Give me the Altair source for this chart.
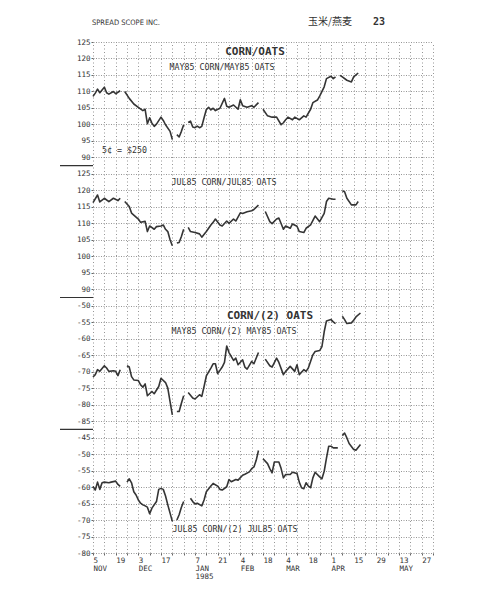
import altair as alt
import pandas as pd

# ---------------- data ----------------
PANEL_TOPS = [125, 125, -50, -45]          # value printed at the top gridline of each panel
SEPARATORS = [7.5, 15.5, 23.5]              # boundaries between the four panels (grid rows)

# Day index = weekdays counted from Mon 5 Nov 1984; None = market holiday (line break)
may_days = [0, 1, 2, 3, 5, 6, 7, 9, 10, 12, 13,
            14, 16, 18, 20, 22, 23, 24, 25, 26, 27, 28, 30, 31, 32, 34, 35, 36,
            37, 38, 39, 40, 41,
            42, 43, 44, 45, 46, 47, 48, 49, 50, 51, 52, 53, 54, 56, 58, 59, 60, 62, 64, 65, 66, 68, 70, 71, 73, 74,
            75, 77, 79, 81, 83, 84, 85, 86, 88, 89, 91, 93, 94, 96, 97, 99, 100, 102, 103, 105, 106, 107, 108,
            109, 110, 112, 114, 115, 117]
may_vals = [108.5, 109.5, 110.7, 109.6, 111.3, 109.6, 109.2, 110.0, 109.3, 110.2, None,
            110.0, 107.9, 106.2, 105.2, 104.2, 104.6, 100.2, 102.0, 100.4, 99.4, 100.1, 102.2, 101.2, 99.9, 97.9, 95.4, None,
            96.9, 96.2, 97.9, 99.9, None,
            100.6, 101.0, 99.2, 99.0, 99.5, 99.0, 99.4, 102.0, 104.5, 105.2, 104.4, 104.9, 104.2, 104.9, 107.9, 105.5, 105.2, 105.9, 104.6, 107.5, 105.7, 105.2, 105.7, 105.2, 106.6, None,
            104.6, 102.6, 102.2, 102.2, 99.9, 100.5, 101.4, 102.2, 101.4, 102.2, 101.4, 102.6, 102.2, 104.6, 106.6, 107.4, 108.6, 111.4, 113.9, 114.6, 113.9, 114.4, None,
            114.9, 114.4, 113.4, 112.9, 114.4, 115.6]

jul_days = [0, 2, 3, 5, 7, 9, 11, 12, 13,
            14, 16, 17, 19, 20, 21, 23, 24, 25, 27, 28, 30, 31, 32, 33, 34, 35, 36,
            37, 38, 39, 40, 41,
            42, 43, 45, 47, 48, 50, 52, 53, 54, 56, 57, 59, 60, 62, 63, 65, 66, 68, 70, 71, 73, 74,
            76, 78, 79, 81, 82, 84, 85, 87, 88, 90, 91, 93, 94, 96, 98, 100, 102, 103, 104, 106, 107, 108,
            110, 111, 112, 114, 116, 117]
jul_vals = [116.3, 118.6, 116.5, 117.6, 116.6, 117.6, 116.9, 117.6, None,
            116.6, 115.1, 113.1, 111.9, 111.3, 110.3, 110.6, 107.5, 109.2, 108.2, 109.0, 109.2, 109.5, 108.2, 107.5, 105.0, 103.2, None,
            104.0, 104.2, 106.0, 108.2, None,
            108.8, 107.5, 107.2, 106.8, 105.8, 107.5, 109.5, 110.3, 111.3, 109.5, 109.2, 110.7, 110.0, 111.3, 110.7, 113.2, 113.0, 113.5, 113.8, 114.2, 115.5, None,
            113.6, 110.5, 109.9, 111.3, 111.6, 108.2, 109.2, 108.5, 109.8, 109.1, 107.5, 107.2, 108.5, 109.5, 112.2, 110.5, 113.0, 116.6, 117.6, 117.3, 117.3, None,
            119.9, 119.6, 117.6, 115.6, 115.6, 116.6]

may2_days = [0, 1, 2, 3, 5, 6, 7, 9, 10, 11, 12, 13,
             15, 16, 17, 18, 20, 21, 22, 23, 24, 26, 27, 29, 30, 32, 33, 34, 35, 36,
             37, 38, 39, 40, 41,
             42, 44, 45, 47, 48, 49, 50, 52, 53, 54, 55, 56, 57, 58, 59, 60, 62, 63, 64, 66, 67, 68, 70, 71, 73, 74,
             76, 78, 79, 81, 82, 84, 85, 87, 89, 90, 91, 93, 94, 95, 97, 98, 100, 101, 102, 103, 105, 106, 107, 108,
             110, 111, 112, 114, 115, 116, 118]
may2_vals = [-71.6, -70.9, -69.4, -69.9, -68.2, -68.9, -69.9, -69.7, -69.9, -71.2, -69.4, None,
             -68.2, -68.6, -71.5, -72.5, -72.7, -74.0, -74.7, -73.7, -77.3, -76.0, -76.7, -74.5, -72.0, -73.3, -75.0, -79.1, -83.1, None,
             -82.1, -82.1, -79.6, -77.3, None,
             -76.3, -78.0, -78.3, -77.0, -77.5, -74.5, -71.3, -68.9, -67.6, -67.6, -70.6, -69.6, -68.6, -67.2, -62.2, -64.2, -66.6, -65.9, -67.9, -66.4, -68.6, -69.2, -66.9, -67.6, -64.2, None,
             -66.2, -68.2, -68.6, -65.9, -67.2, -70.9, -69.9, -68.4, -69.9, -67.9, -70.9, -69.4, -69.9, -68.9, -64.9, -63.9, -63.6, -62.4, -57.9, -54.6, -54.2, -54.9, -55.4, None,
             -53.2, -54.2, -55.4, -55.2, -54.4, -53.4, -52.2]

jul2_days = [0, 1, 2, 3, 4, 5, 7, 8, 10, 11, 12, 13,
             15, 16, 17, 18, 19, 20, 21, 22, 23, 24, 25, 26, 28, 29, 30, 31, 32, 33, 34, 35, 36,
             37, 38, 39, 40, 41,
             43, 44, 45, 46, 48, 49, 50, 52, 53, 55, 56, 57, 59, 60, 61, 63, 64, 66, 67, 69, 70, 71, 72, 73, 74,
             75, 77, 78, 79, 80, 82, 83, 84, 85, 87, 88, 90, 91, 92, 93, 94, 95, 96, 97, 98, 100, 101, 102, 103, 104, 105, 106, 108, 109,
             110, 111, 112, 113, 115, 116, 118]
jul2_vals = [-59.8, -60.9, -58.5, -60.7, -58.7, -58.5, -58.7, -58.5, -58.2, -59.2, -59.8, None,
             -58.5, -57.5, -58.7, -61.4, -62.4, -63.9, -64.9, -65.4, -65.7, -66.1, -68.1, -66.4, -64.4, -60.7, -60.4, -60.7, -62.7, -65.4, -67.9, -70.4, None,
             -70.0, -68.4, -66.1, -64.4, None,
             -63.4, -64.4, -65.1, -64.9, -65.7, -63.9, -61.4, -59.7, -58.9, -59.7, -60.7, -60.9, -59.9, -57.7, -58.4, -57.7, -57.9, -56.4, -56.1, -55.4, -54.4, -53.9, -51.9, -48.9, None,
             -51.4, -52.9, -54.4, -55.7, -52.4, -52.4, -54.4, -57.2, -56.2, -56.2, -55.5, -55.9, -58.5, -60.2, -60.5, -58.7, -59.7, -60.2, -57.2, -55.5, -56.9, -57.5, -55.2, -51.2, -47.6, -47.6, -48.1, -48.1, None,
             -44.4, -43.6, -45.1, -46.8, -48.6, -48.8, -47.1]

SERIES = [(may_days, may_vals), (jul_days, jul_vals), (may2_days, may2_vals), (jul2_days, jul2_vals)]

XTICK_DAYS = [0, 10, 20, 30, 45, 55, 65, 75, 85, 95, 105, 115, 125, 135, 145]
XTICK_LABELS = [["5", "NOV"], ["19"], ["3", "DEC"], ["17"], ["7", "JAN", "1985"], ["21"],
                ["4", "FEB"], ["18"], ["4", "MAR"], ["18"], ["1", "APR"], ["15"], ["29"],
                ["13", "MAY"], ["27"]]

HEADER_LEFT = "SPREAD SCOPE INC."
HEADER_CN = "玉米/燕麦"
PAGE_NO = "23"
TITLE_1 = "CORN/OATS"
SUB_1 = "MAY85 CORN/MAY85 OATS"
UNIT = "5¢ = $250"
SUB_2 = "JUL85 CORN/JUL85 OATS"
TITLE_2 = "CORN/(2) OATS"
SUB_3 = "MAY85 CORN/(2) MAY85 OATS"
SUB_4 = "JUL85 CORN/(2) JUL85 OATS"

# ---------------- build table ----------------
rows = []
for k, (days, vals) in enumerate(SERIES):
    seg = 0
    for d, v in zip(days, vals):
        if v is None:
            seg += 1
            continue
        rows.append({"panel": k, "top": PANEL_TOPS[k], "day": d, "value": v, "seg": f"{k}-{seg}"})
df = pd.DataFrame(rows)

MONO = "DejaVu Sans Mono"
INK = "#333333"
GRID = "#8a8a8a"

tick_obj = "{" + ",".join(
    "'%d':[%s]" % (d, ",".join("'%s'" % s for s in lab)) for d, lab in zip(XTICK_DAYS, XTICK_LABELS)
) + "}"
x_label_expr = "(%s)[datum.value] || ''" % tick_obj
tops_arr = "[" + ",".join(str(t) for t in PANEL_TOPS) + "]"
y_label_expr = "'' + (%s[floor(datum.value/8)] - 5*(datum.value %% 8))" % tops_arr

x_enc = alt.X(
    "day:Q",
    scale=alt.Scale(domain=[0, 150], nice=False, zero=False),
    axis=alt.Axis(
        values=list(range(0, 151, 5)), labelExpr=x_label_expr, title=None,
        grid=True, gridDash=[1, 2.5], gridColor=GRID, gridWidth=0.9,
        domain=False, tickSize=2, tickColor="#666",
        labelAlign="left", labelBaseline="top", labelPadding=1,
        labelFont=MONO, labelFontSize=7.5, labelColor=INK, labelLineHeight=8,
        labelOverlap=False, labelBound=False, labelFlush=False,
    ),
)
y_enc = alt.Y(
    "pos:Q",
    scale=alt.Scale(domain=[0, 31], reverse=True, nice=False, zero=False),
    axis=alt.Axis(
        values=list(range(0, 32)), labelExpr=y_label_expr, title=None,
        grid=True, gridDash=[1, 1.5], gridColor=GRID, gridWidth=0.9,
        domain=False, tickSize=2, tickColor="#666",
        labelFont=MONO, labelFontSize=7.5, labelColor=INK, labelPadding=1,
        labelOverlap=False,
    ),
)

lines = alt.Chart(df).transform_calculate(
    pos="datum.panel * 8 + (datum.top - datum.value) / 5"
).mark_line(color="#353535", strokeWidth=1.6, strokeJoin="round").encode(
    x=x_enc, y=y_enc, detail="seg:N"
)

seps = alt.Chart(pd.DataFrame({"pos": SEPARATORS})).mark_rule(color="#333", strokeWidth=1.2).encode(
    y=y_enc, x=alt.value(-33), x2=alt.value(0)
)


def label(text, x, y, size, weight="normal", align="center", font=MONO):
    return alt.Chart(pd.DataFrame({"t": [text]})).mark_text(
        align=align, baseline="middle", fontSize=size, fontWeight=weight, font=font, color=INK
    ).encode(text="t:N", x=alt.value(x), y=alt.value(y))


texts = [
    label(HEADER_LEFT, -1, -19, 7.5, align="left", font="Liberation Sans Narrow, DejaVu Sans Condensed, sans-serif"),
    label(HEADER_CN, 215, -20, 10, align="left", font="Noto Sans CJK SC"),
    label(PAGE_NO, 280, -20, 10, weight="bold", align="left"),
    label(TITLE_1, 162, 10, 11, weight="bold"),
    label(SUB_1, 129, 26, 8.3),
    label(UNIT, 9, 109, 8.3, align="left"),
    label(SUB_2, 131, 141, 8.3),
    label(TITLE_2, 177, 274, 11, weight="bold"),
    label(SUB_3, 141, 290, 8.3),
    label(SUB_4, 142, 488, 8.3),
]

chart = alt.layer(lines, seps, *texts).properties(
    width=340, height=511,
    autosize=alt.AutoSizeParams(type="none"),
    padding={"left": 85, "top": 34, "right": 50, "bottom": 35},
    background="white",
).configure_view(stroke=None)

chart.save("out.html", embed_options={"renderer": "svg", "actions": False})
